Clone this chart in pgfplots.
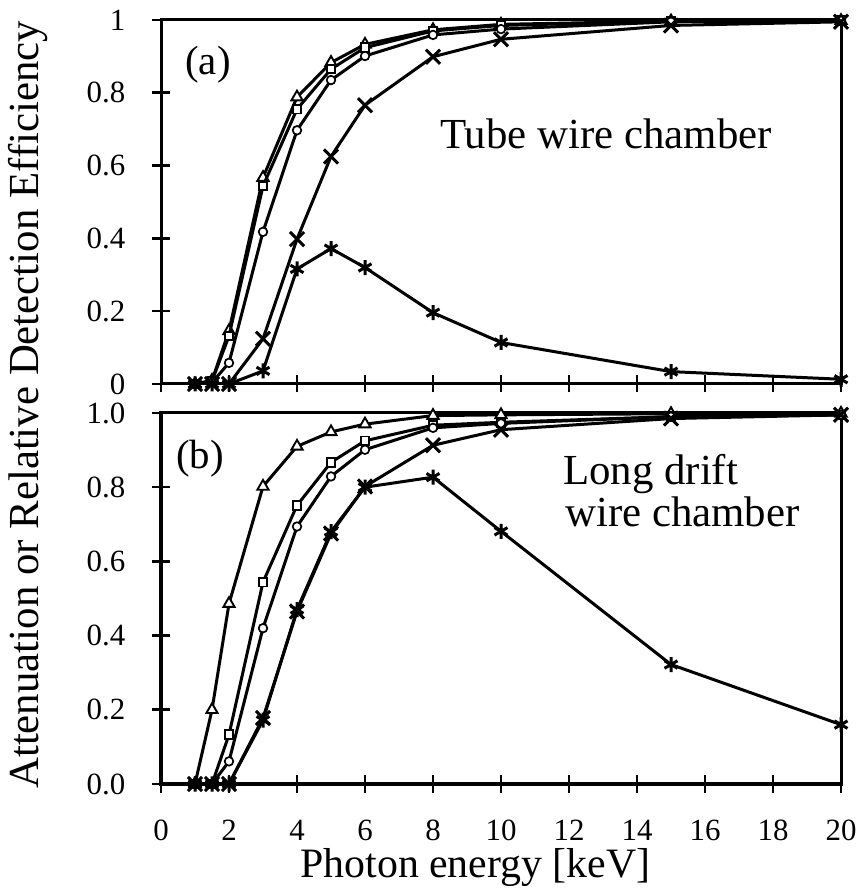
\documentclass[border=0pt]{standalone}
\usepackage{pgfplots}
\pgfplotsset{compat=1.18}
\usepackage{fontspec}
\setmainfont{Liberation Serif}

\pgfplotsset{
  myaxis/.style={
    scale only axis, width=680bp, xmin=0, xmax=20, ymin=0, ymax=1,
    axis line style={line width=3bp},
    xtick={0,2,4,6,8,10,12,14,16,18,20},
    ytick={0,0.2,0.4,0.6,0.8,1},
    xtick pos=bottom, ytick pos=left,
    major tick length=17bp, tick align=center,
    major tick style={draw=black, line width=2.6bp},
    yticklabel style={font=\fontsize{31}{33}\selectfont, anchor=east, inner sep=0pt, xshift=-27bp},
    xticklabel style={font=\fontsize{31}{33}\selectfont, anchor=north, inner sep=0pt, yshift=-27bp},
    /pgf/number format/assume math mode=true,
    clip mode=individual,
  },
  s/.style={black, line width=3bp},
  tri/.style={s, mark=triangle*, mark size=6.5bp, mark options={fill=white, line width=1.9bp}},
  sq/.style={s, mark=square*, mark size=4.3bp, mark options={fill=white, line width=1.9bp}},
  ci/.style={s, mark=*, mark size=4.3bp, mark options={fill=white, line width=1.7bp}},
  xx/.style={s, mark=x, mark size=10bp, mark options={line width=3bp}},
  as/.style={s, mark=asterisk, mark size=7.5bp, mark options={line width=3bp}},
}

\begin{document}
\begin{tikzpicture}
\path[use as bounding box] (0,0) rectangle (861bp,888bp);

% ---- panel (a)
\begin{axis}[myaxis, at={(161bp,504bp)}, anchor=south west, height=364bp,
  xticklabels={}]
\addplot[tri] coordinates {(1,0) (1.5,0.01) (2,0.146) (3,0.567) (4,0.788) (5,0.883) (6,0.933) (8,0.973) (10,0.988) (15,0.997) (20,0.998)};
\addplot[sq] coordinates {(1,0) (1.5,0.008) (2,0.132) (3,0.544) (4,0.755) (5,0.865) (6,0.924) (8,0.970) (10,0.985) (15,0.997) (20,0.999)};
\addplot[ci] coordinates {(1,0) (1.5,0.004) (2,0.058) (3,0.418) (4,0.697) (5,0.835) (6,0.901) (8,0.959) (10,0.975) (15,0.995) (20,0.998)};
\addplot[xx] coordinates {(1,0) (1.5,0) (2,0) (3,0.124) (4,0.398) (5,0.625) (6,0.766) (8,0.899) (10,0.947) (15,0.985) (20,0.995)};
\addplot[as] coordinates {(1,0) (1.5,0) (2,0) (3,0.036) (4,0.316) (5,0.372) (6,0.32) (8,0.196) (10,0.114) (15,0.034) (20,0.013)};
\end{axis}

% ---- panel (b)
\begin{axis}[myaxis, at={(161bp,104bp)}, anchor=south west, height=371bp,
  yticklabel style={/pgf/number format/.cd, fixed, fixed zerofill, precision=1},
  xlabel={Photon energy [keV]},
  xlabel style={font=\fontsize{42}{46}\selectfont, at={(axis description cs:0.4625,0)}, anchor=base, yshift=-93bp},
  ylabel={Attenuation or Relative Detection Efficiency},
  ylabel style={font=\fontsize{43}{46}\selectfont, at={(axis description cs:-0.1956,1.0216)}, anchor=center},
]
\addplot[tri] coordinates {(1,0) (1.5,0.2) (2,0.486) (3,0.802) (4,0.91) (5,0.949) (6,0.97) (8,0.993) (10,0.995) (15,0.998) (20,0.999)};
\addplot[sq] coordinates {(1,0) (1.5,0) (2,0.133) (3,0.544) (4,0.751) (5,0.867) (6,0.925) (8,0.967) (10,0.975) (15,0.99) (20,0.995)};
\addplot[ci] coordinates {(1,0) (1.5,0) (2,0.061) (3,0.42) (4,0.694) (5,0.829) (6,0.901) (8,0.96) (10,0.972) (15,0.99) (20,0.995)};
\addplot[xx] coordinates {(1,0) (1.5,0) (2,0) (3,0.178) (4,0.465) (5,0.675) (6,0.802) (8,0.913) (10,0.955) (15,0.985) (20,0.995)};
\addplot[as] coordinates {(1,0) (1.5,0) (2,0) (3,0.172) (4,0.47) (5,0.68) (6,0.80) (8,0.827) (10,0.681) (15,0.322) (20,0.16)};
\end{axis}

\node[font=\fontsize{41}{44}\selectfont, anchor=center] at (208bp,823bp) {(a)};
\node[font=\fontsize{41}{44}\selectfont, anchor=center] at (200bp,429bp) {(b)};
\node[font=\fontsize{43}{46}\selectfont, anchor=base west, inner sep=0pt] at (440bp,739bp) {Tube wire chamber};
\node[font=\fontsize{43}{46}\selectfont, anchor=base west, inner sep=0pt] at (563bp,403bp) {Long drift};
\node[font=\fontsize{43}{46}\selectfont, anchor=base west, inner sep=0pt] at (565bp,361bp) {wire chamber};
\end{tikzpicture}
\end{document}
